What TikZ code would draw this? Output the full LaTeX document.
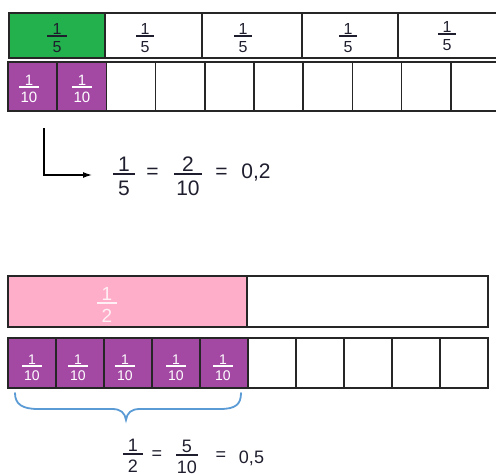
\documentclass[tikz,border=0pt]{standalone}
\usepackage{fontspec}
\setmainfont{Liberation Sans}
\usetikzlibrary{arrows.meta}
\definecolor{pgreen}{HTML}{22B14C}
\definecolor{ppurple}{HTML}{A349A4}
\definecolor{ppink}{HTML}{FFAEC9}
\definecolor{pblue}{HTML}{5B9BD5}
\definecolor{pline}{HTML}{262626}
\definecolor{ptext}{HTML}{1E1E2E}
\definecolor{pinktext}{HTML}{FFF0F5}
% #1 name, #2 x, #3 bar y, #4 numerator, #5 denominator, #6 font size, #7 colour, #8 half bar width
\newcommand\Fr[8]{%
  \node[frtxt, text=#7, font=\fontsize{#6}{#6}\selectfont] (#1n) at ({#2},{#3-0.12*#6}) {#4};
  \node[frtxt, text=#7, font=\fontsize{#6}{#6}\selectfont] (#1d) at ({#2},{#3+1.02*#6}) {#5};
  \draw[draw=#7, line width=1.3pt] ({#2-#8},{#3}) -- ({#2+#8},{#3});
}
\begin{document}
\begin{tikzpicture}[x=1pt,y=-1pt,
  frtxt/.style={inner sep=0pt, anchor=base},
  eqtxt/.style={inner sep=0pt, text=ptext},
  cellline/.style={draw=pline, line width=1.6pt},
  arrowline/.style={draw=black, line width=1.3pt, -{Latex[length=9pt,width=6pt]}},
  bracestyle/.style={draw=pblue, line width=1.8pt, line cap=round}]
\useasboundingbox (0,0) rectangle (496,474);
\clip (0,0) rectangle (496,474);

% ---- top row: fifths
\fill[pgreen] (9,13) rectangle (105,58);
\draw[cellline] (9,13) rectangle (497,58);
\foreach \xx in {105,202,302,398} \draw[cellline] (\xx,13) -- (\xx,58);
\Fr{f1}{57}{36}{1}{5}{16}{ptext}{10}
\Fr{f2}{145}{36}{1}{5}{16}{ptext}{9}
\Fr{f3}{243}{36}{1}{5}{16}{ptext}{9}
\Fr{f4}{348}{36}{1}{5}{16}{ptext}{9}
\Fr{f5}{447}{34}{1}{5}{16}{ptext}{9}

% ---- second row: tenths
\fill[ppurple] (8,62) rectangle (106.4,111);
\draw[cellline] (8,62) rectangle (500,111);
\foreach \i in {1,...,9} \draw[cellline] ({8+49.2*\i},62) -- ({8+49.2*\i},111);
\Fr{t1}{29}{87}{1}{10}{15}{white}{10}
\Fr{t2}{82}{87}{1}{10}{15}{white}{10}

% ---- arrow
\coordinate (aS) at (44,128);
\coordinate (aC) at (44,175);
\coordinate (aE) at (92,175);
\draw[arrowline] (aS) -- (aC) -- (aE);

% ---- equation 1
\Fr{e1a}{124}{174}{1}{5}{21}{ptext}{11}
\node[eqtxt, font=\fontsize{21}{21}\selectfont] (e1b) at (152.5,173) {=};
\Fr{e1c}{188}{174}{2}{10}{21}{ptext}{14}
\node[eqtxt, font=\fontsize{21}{21}\selectfont] (e1d) at (221.5,173) {=};
\node[eqtxt, anchor=base, font=\fontsize{21}{21}\selectfont] (e1e) at (256,178) {0,2};

% ---- half bar
\fill[ppink] (8,276) rectangle (247,327);
\draw[cellline] (8,276) rectangle (488,327);
\draw[cellline] (247,276) -- (247,327);
\Fr{h1}{107}{303}{1}{2}{19}{pinktext}{10}

% ---- bottom row: tenths
\fill[ppurple] (8,338) rectangle (248,388);
\draw[cellline] (8,338) rectangle (488,388);
\foreach \i in {1,...,9} \draw[cellline] ({8+48*\i},338) -- ({8+48*\i},388);
\Fr{b1}{32}{366}{1}{10}{14}{white}{10}
\Fr{b2}{78}{366}{1}{10}{14}{white}{10}
\Fr{b3}{125}{366}{1}{10}{14}{white}{10}
\Fr{b4}{176}{366}{1}{10}{14}{white}{10}
\Fr{b5}{223}{366}{1}{10}{14}{white}{10}

% ---- brace
\coordinate (bL) at (15,393);
\coordinate (bT) at (126,420);
\coordinate (bR) at (241,393);
\draw[bracestyle] (bL) .. controls (15,404) and (22,409) .. (38,409) -- (112,409)
  .. controls (121,409) and (125,413) .. (bT)
  .. controls (127,413) and (131,409) .. (140,409) -- (220,409)
  .. controls (236,409) and (241,404) .. (bR);

% ---- equation 2
\Fr{e2a}{133}{454}{1}{2}{18}{ptext}{10}
\node[eqtxt, font=\fontsize{18}{18}\selectfont] (e2b) at (157,455) {=};
\Fr{e2c}{187}{455}{5}{10}{18}{ptext}{11}
\node[eqtxt, font=\fontsize{18}{18}\selectfont] (e2d) at (221,456) {=};
\node[eqtxt, anchor=base, font=\fontsize{18}{18}\selectfont] (e2e) at (251.5,463) {0,5};
\end{tikzpicture}
\end{document}
